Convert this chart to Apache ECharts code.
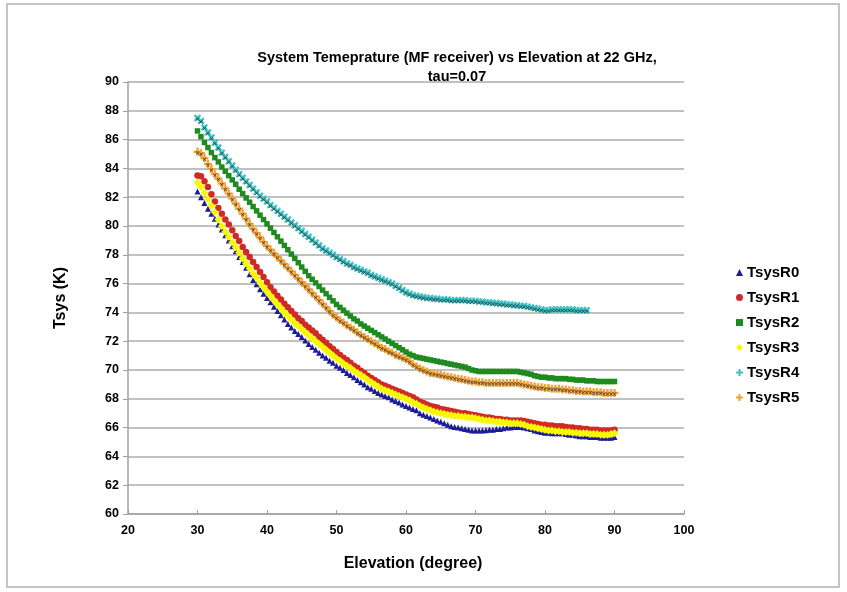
<!DOCTYPE html>
<html>
<head>
<meta charset="utf-8">
<script src="https://cdn.jsdelivr.net/npm/echarts@6/dist/echarts.min.js"></script>
<style>
html,body{margin:0;padding:0;background:#fff;}
#chart{width:847px;height:592px;}
</style>
</head>
<body>
<div id="chart"></div>
<script>
// Elevation samples (degrees)
const elevation = [30,30.5,31,31.5,32,32.5,33,33.5,34,34.5,35,35.5,36,36.5,37,37.5,38,38.5,39,39.5,
40,40.5,41,41.5,42,42.5,43,43.5,44,44.5,45,45.5,46,46.5,47,47.5,48,48.5,49,49.5,
50,50.5,51,51.5,52,52.5,53,53.5,54,54.5,55,55.5,56,56.5,57,57.5,58,58.5,59,59.5,
60,60.5,61,61.5,62,62.5,63,63.5,64,64.5,65,65.5,66,66.5,67,67.5,68,68.5,69,69.5,
70,70.5,71,71.5,72,72.5,73,73.5,74,74.5,75,75.5,76,76.5,77,77.5,78,78.5,79,79.5,
80,80.5,81,81.5,82,82.5,83,83.5,84,84.5,85,85.5,86,86.5,87,87.5,88,88.5,89,89.5,90];

const tsysR0 = [82.4,82.0,81.6,81.2,80.85,80.5,80.1,79.75,79.35,79.0,78.6,78.25,77.85,77.5,77.1,76.65,76.25,75.95,75.6,75.3,
75.0,74.7,74.4,74.1,73.8,73.5,73.2,72.95,72.7,72.5,72.3,72.05,71.8,71.6,71.4,71.2,71.0,70.85,70.65,70.5,
70.3,70.15,70.0,69.8,69.65,69.5,69.3,69.15,69.0,68.8,68.7,68.55,68.4,68.3,68.2,68.1,67.95,67.85,67.75,67.6,
67.5,67.4,67.3,67.2,67.0,66.9,66.8,66.7,66.6,66.5,66.4,66.3,66.2,66.1,66.05,66.0,65.95,65.9,65.85,65.8,
65.8,65.8,65.8,65.82,65.85,65.85,65.9,65.9,65.95,66.0,66.0,66.05,66.05,66.05,66.0,65.95,65.9,65.8,65.75,65.7,
65.65,65.65,65.6,65.6,65.6,65.6,65.55,65.5,65.5,65.45,65.4,65.4,65.4,65.35,65.35,65.35,65.3,65.3,65.3,65.3,65.35];

const tsysR1 = [83.5,83.45,83.1,82.7,82.2,81.7,81.25,80.85,80.45,80.1,79.7,79.3,78.95,78.55,78.2,77.85,77.5,77.15,76.8,76.45,
76.1,75.75,75.45,75.15,74.9,74.6,74.35,74.1,73.85,73.6,73.4,73.15,72.95,72.75,72.55,72.3,72.1,71.9,71.65,71.45,
71.25,71.05,70.85,70.7,70.5,70.3,70.15,69.95,69.8,69.6,69.45,69.3,69.15,69.0,68.9,68.8,68.7,68.6,68.5,68.4,
68.3,68.2,68.1,67.95,67.8,67.7,67.6,67.5,67.45,67.4,67.3,67.25,67.2,67.15,67.1,67.05,67.0,67.0,66.95,66.9,
66.85,66.8,66.75,66.7,66.7,66.65,66.6,66.6,66.55,66.55,66.5,66.5,66.5,66.5,66.45,66.4,66.35,66.3,66.25,66.2,
66.2,66.15,66.15,66.1,66.1,66.1,66.05,66.0,66.0,65.95,65.95,65.9,65.9,65.85,65.85,65.85,65.8,65.8,65.8,65.8,65.85];

const tsysR2 = [86.6,86.2,85.8,85.45,85.1,84.75,84.45,84.1,83.8,83.5,83.2,82.9,82.55,82.25,81.95,81.65,81.35,81.05,80.75,80.45,
80.15,79.85,79.55,79.25,78.95,78.65,78.35,78.05,77.75,77.45,77.15,76.85,76.55,76.3,76.05,75.8,75.55,75.3,75.05,74.8,
74.55,74.35,74.15,73.95,73.75,73.55,73.4,73.2,73.05,72.9,72.75,72.6,72.45,72.3,72.15,72.0,71.85,71.7,71.55,71.4,
71.25,71.1,71.0,70.9,70.85,70.8,70.75,70.7,70.65,70.6,70.55,70.5,70.45,70.4,70.35,70.3,70.25,70.2,70.1,70.0,
69.95,69.9,69.9,69.9,69.9,69.9,69.9,69.9,69.9,69.9,69.9,69.9,69.9,69.85,69.8,69.75,69.7,69.6,69.55,69.5,
69.5,69.45,69.45,69.4,69.4,69.4,69.4,69.35,69.35,69.3,69.3,69.3,69.25,69.25,69.25,69.2,69.2,69.2,69.2,69.2,69.2];

const tsysR3 = [83.0,82.7,82.3,81.85,81.4,80.95,80.45,80.0,79.6,79.25,78.85,78.5,78.15,77.75,77.4,77.05,76.7,76.4,76.05,75.75,
75.45,75.15,74.85,74.55,74.3,74.0,73.75,73.5,73.25,73.05,72.85,72.6,72.4,72.2,72.0,71.8,71.6,71.4,71.2,71.0,
70.8,70.65,70.45,70.3,70.15,69.95,69.8,69.65,69.5,69.3,69.15,69.0,68.85,68.7,68.6,68.5,68.4,68.3,68.2,68.1,
68.0,67.9,67.75,67.65,67.5,67.4,67.3,67.2,67.1,67.05,67.0,66.95,66.9,66.85,66.8,66.8,66.75,66.75,66.7,66.7,
66.65,66.6,66.55,66.5,66.5,66.45,66.4,66.4,66.35,66.35,66.3,66.3,66.3,66.25,66.2,66.1,66.05,66.0,65.95,65.9,
65.85,65.8,65.8,65.75,65.75,65.7,65.7,65.7,65.65,65.65,65.6,65.6,65.6,65.55,65.55,65.55,65.5,65.5,65.5,65.55,65.6];

const tsysR4 = [87.5,87.3,86.85,86.5,86.15,85.8,85.45,85.1,84.8,84.5,84.2,83.9,83.6,83.35,83.1,82.85,82.6,82.35,82.1,81.9,
81.7,81.45,81.25,81.05,80.85,80.65,80.45,80.25,80.05,79.85,79.65,79.45,79.25,79.05,78.85,78.65,78.45,78.3,78.15,78.0,
77.85,77.7,77.55,77.4,77.3,77.15,77.05,76.95,76.85,76.75,76.6,76.5,76.4,76.3,76.2,76.1,76.0,75.85,75.7,75.55,
75.4,75.3,75.2,75.15,75.1,75.05,75.0,75.0,74.95,74.95,74.9,74.9,74.9,74.85,74.85,74.85,74.85,74.85,74.8,74.8,
74.8,74.75,74.75,74.7,74.7,74.65,74.65,74.6,74.6,74.55,74.55,74.5,74.5,74.45,74.45,74.4,74.35,74.3,74.25,74.2,
74.15,74.15,74.2,74.2,74.2,74.2,74.2,74.2,74.2,74.15,74.15,74.15,74.15];

const tsysR5 = [85.15,85.05,84.7,84.3,83.95,83.6,83.3,82.95,82.6,82.25,81.9,81.55,81.2,80.85,80.5,80.15,79.8,79.5,79.2,78.9,
78.6,78.35,78.1,77.85,77.6,77.35,77.1,76.85,76.6,76.35,76.1,75.85,75.6,75.35,75.1,74.85,74.6,74.35,74.1,73.85,
73.65,73.45,73.3,73.1,72.95,72.8,72.6,72.45,72.3,72.15,72.0,71.85,71.7,71.55,71.45,71.3,71.2,71.05,70.95,70.85,
70.75,70.6,70.4,70.25,70.1,70.0,69.9,69.8,69.75,69.7,69.65,69.6,69.55,69.5,69.45,69.4,69.35,69.3,69.25,69.2,
69.2,69.15,69.15,69.1,69.1,69.1,69.1,69.1,69.1,69.1,69.1,69.1,69.1,69.05,69.0,68.95,68.9,68.85,68.8,68.8,
68.75,68.75,68.7,68.7,68.7,68.65,68.65,68.6,68.6,68.55,68.55,68.5,68.5,68.5,68.45,68.45,68.45,68.4,68.4,68.4,68.4];

const seriesNames = ['TsysR0','TsysR1','TsysR2','TsysR3','TsysR4','TsysR5'];
const seriesValues = [tsysR0, tsysR1, tsysR2, tsysR3, tsysR4, tsysR5];
const xTicks = [20,30,40,50,60,70,80,90,100];
const yTicks = [60,62,64,66,68,70,72,74,76,78,80,82,84,86,88,90];

const titleText = 'System Temeprature (MF receiver) vs Elevation at 22 GHz,\ntau=0.07';

const plusPath = 'path://M3.5,0L6.5,0L6.5,3.5L10,3.5L10,6.5L6.5,6.5L6.5,10L3.5,10L3.5,6.5L0,6.5L0,3.5L3.5,3.5Z';
const thinPlus = 'path://M4.2,0L5.8,0L5.8,4.2L10,4.2L10,5.8L5.8,5.8L5.8,10L4.2,10L4.2,5.8L0,5.8L0,4.2L4.2,4.2Z';

const styles = [
  {color:'#1c1c96', symbol:'triangle', size:6, rotate:0},
  {color:'#d02a27', symbol:'circle', size:6.5, rotate:0},
  {color:'#1f8a1f', symbol:'rect', size:5.5, rotate:0},
  {color:'#f7f700', symbol:'diamond', size:8, rotate:0},
  {color:'#3fc4c8', symbol:plusPath, size:8, rotate:45},
  {color:'#f4a234', symbol:plusPath, size:8, rotate:0}
];

function pairs(vals){ return vals.map((v,i)=>[elevation[i], v]); }

const series = [];
seriesValues.forEach((vals, k) => {
  const st = styles[k];
  series.push({
    name: seriesNames[k], type:'scatter', data: pairs(vals),
    symbol: st.symbol, symbolSize: st.size, symbolRotate: st.rotate,
    itemStyle: {color: st.color, opacity: 1},
    emphasis: {disabled: true}, z: 2 + k
  });
  if (k === 4 || k === 5) {
    series.push({
      name: seriesNames[k] + '_overlay', type:'scatter', data: pairs(vals),
      symbol: thinPlus, symbolSize: 4.5, symbolRotate: 45, symbolOffset: [0, 1],
      itemStyle: {color: '#1a1a1a', opacity: 0.7},
      emphasis: {disabled: true}, z: 2 + k, silent: true
    });
  }
});

const chart = echarts.init(document.getElementById('chart'), null, {renderer:'canvas'});
const FONT = 'Liberation Sans, Arial, sans-serif';
chart.setOption({
  animation: false,
  backgroundColor: '#fff',
  textStyle: {fontFamily: FONT},
  graphic: [{
    type: 'rect', shape: {x: 7, y: 4, width: 832, height: 583},
    style: {fill: 'none', stroke: '#c4c4c4', lineWidth: 2}, silent: true, z: -1
  }],
  title: {
    text: titleText, left: 452, top: 43, textAlign: 'center',
    textStyle: {fontFamily: FONT, fontSize: 14.5, fontWeight: 'bold', color: '#000', lineHeight: 19}
  },
  legend: {
    data: seriesNames.map((n,k)=>({name:n, icon: styles[k].symbol, itemStyle:{color: styles[k].color}})),
    orient: 'vertical', left: 731, top: 260, itemWidth: 7, itemHeight: 7, itemGap: 10,
    textStyle: {fontFamily: FONT, fontSize: 15, fontWeight: 'bold', color: '#000', padding:[0,0,0,-1]}
  },
  grid: {left: 128, right: 163, top: 82, bottom: 78, containLabel: false},
  xAxis: {
    type: 'value', min: 20, max: 100, interval: 10,
    name: 'Elevation (degree)', nameLocation: 'middle', nameGap: 42,
    nameTextStyle: {fontFamily: FONT, fontSize: 16, fontWeight: 'bold', color: '#000', padding: [0, 0, 0, 14]},
    axisLine: {show: true, lineStyle: {color: '#a0a0a0', width: 1.5}},
    axisTick: {show: true, inside: true, length: 4, lineStyle: {color: '#a0a0a0'}},
    axisLabel: {fontFamily: FONT, fontSize: 12.5, fontWeight: 'bold', color: '#000', margin: 10,
      formatter: v => xTicks.includes(v) ? String(v) : ''},
    splitLine: {show: false}
  },
  yAxis: {
    type: 'value', min: 60, max: 90, interval: 2,
    name: 'Tsys (K)', nameLocation: 'middle', nameGap: 59, nameRotate: 90,
    nameTextStyle: {fontFamily: FONT, fontSize: 16, fontWeight: 'bold', color: '#000'},
    axisLine: {show: true, lineStyle: {color: '#a0a0a0', width: 1.5}},
    axisTick: {show: true, inside: false, length: 5, lineStyle: {color: '#a0a0a0'}},
    axisLabel: {fontFamily: FONT, fontSize: 12.5, fontWeight: 'bold', color: '#000', margin: 9,
      formatter: v => yTicks.includes(v) ? String(v) : ''},
    splitLine: {show: true, lineStyle: {color: '#ababab', width: 1.5}}
  },
  series: series
});
</script>
</body>
</html>
